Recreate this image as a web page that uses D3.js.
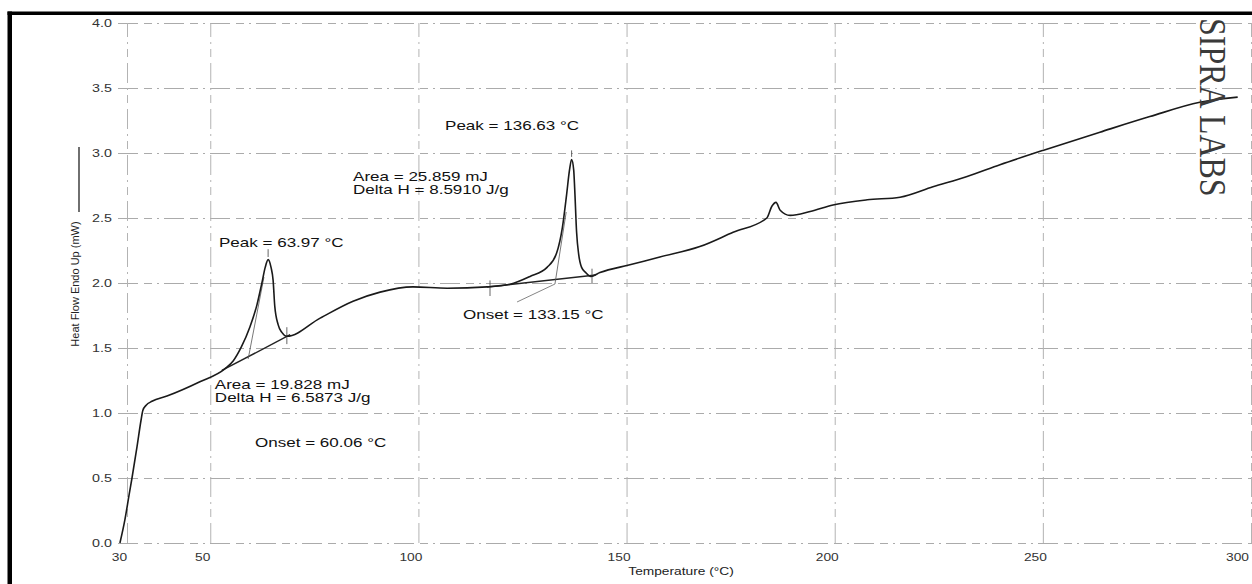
<!DOCTYPE html>
<html>
<head>
<meta charset="utf-8">
<script src="https://cdn.jsdelivr.net/npm/d3@7"></script>
<style>
  body { margin: 0; background: #fff; }
  svg { display: block; font-family: "Liberation Sans", Arial, sans-serif; }
</style>
</head>
<body>
<div id="chart"></div>
<script>
// DSC trace
const temperature = [28.3, 29.5, 30.5, 31.2, 32.4, 33.4, 33.8, 34.6, 36.0, 39.6, 47.5, 53.5, 55.5, 57.5, 59.5,
  61.2, 62.4, 63.2, 63.9, 64.6, 65.1, 65.5, 66.3, 67.2, 68.4, 76.4, 84.3, 90.8, 98.7, 106.9, 116.5, 122.0,
  126.8, 130.9, 133.2, 134.6, 135.6, 136.3, 136.8, 137.3, 137.55, 138.0, 138.5, 139.2, 140.2, 141.4, 143.6,
  150.8, 158.0, 167.6, 175.6, 183.7, 184.9, 185.9, 186.9, 189.3, 194.1, 199.6, 207.8, 215.7, 223.6, 231.8,
  239.7, 250.0, 263.7, 275.7, 287.7, 296.8];
const heatFlow = [0.00, 0.18, 0.37, 0.50, 0.74, 0.95, 1.02, 1.06, 1.09, 1.13, 1.24, 1.34, 1.40, 1.51, 1.66,
  1.83, 2.00, 2.12, 2.18, 2.12, 2.02, 1.82, 1.68, 1.62, 1.59, 1.73, 1.86, 1.93, 1.97, 1.96, 1.97, 1.99,
  2.05, 2.12, 2.23, 2.43, 2.68, 2.87, 2.95, 2.87, 2.72, 2.39, 2.22, 2.12, 2.08, 2.05, 2.08,
  2.14, 2.20, 2.28, 2.39, 2.50, 2.59, 2.62, 2.56, 2.52, 2.55, 2.60, 2.64, 2.66, 2.74, 2.82,
  2.91, 3.02, 3.16, 3.28, 3.39, 3.43];

// integration baselines and onset tangents [t0, t1], [hf0, hf1]
const base1T = [52.8, 69.2], base1Hf = [1.327, 1.602];
const base2T = [116.5, 142.6], base2Hf = [1.969, 2.062];
const tangent1T = [59.1, 62.9], tangent1Hf = [1.415, 2.046];
const tangent2T = [132.8, 135.5], tangent2Hf = [1.992, 2.546];
const leader2T = [123.7, 132.8], leader2Hf = [1.854, 1.992];
// small vertical markers: [t, hfLow, hfHigh]
const markT = [68.4, 63.9, 117.2, 141.7, 136.8];
const markLo = [1.53, 2.20, 1.90, 2.00, 2.97];
const markHi = [1.66, 2.26, 2.02, 2.11, 3.02];

const xTicks = [30, 50, 100, 150, 200, 250, 300];
const yTicks = [0, 0.5, 1.0, 1.5, 2.0, 2.5, 3.0, 3.5, 4.0];

const noteText = ['Peak = 63.97 °C', 'Area = 19.828 mJ', 'Delta H = 6.5873 J/g', 'Onset = 60.06 °C',
  'Peak = 136.63 °C', 'Area = 25.859 mJ', 'Delta H = 8.5910 J/g', 'Onset = 133.15 °C'];
const noteT = [52.1, 51.1, 51.1, 60.75, 106.4, 84.3, 84.3, 110.7];
const noteHf = [2.277, 1.185, 1.085, 0.738, 3.177, 2.785, 2.685, 1.723];

const W = 1252, H = 584;
const svg = d3.select('#chart').append('svg').attr('width', W).attr('height', H);

const x = d3.scaleLinear().domain([30, 300]).range([127, 1251]);
const y = d3.scaleLinear().domain([0, 4]).range([543, 23]);
const dash = '20,6,8,5,2,5';

// y grid + labels
const yAxis = svg.append('g')
  .attr('class', 'axis axis-y')
  .attr('transform', 'translate(118,0)')
  .call(d3.axisLeft(y).tickValues(yTicks).tickSize(-(W - 118)).tickPadding(6).tickFormat(d3.format('.1f')));
yAxis.select('.domain').remove();
yAxis.selectAll('line').attr('stroke', '#ababab').attr('stroke-dasharray', dash);
yAxis.selectAll('text')
  .attr('x', null)
  .attr('transform', 'translate(-6,0) scale(1.3,1)')
  .attr('font-size', 11).attr('fill', '#333')
  .attr('font-family', '"Liberation Sans", Arial, sans-serif');

// x grid + labels
const xAxis = svg.append('g')
  .attr('class', 'axis axis-x')
  .attr('transform', `translate(0,${y(0)})`)
  .call(d3.axisBottom(x).tickValues(xTicks).tickSize(-(y(0) - y(4))).tickPadding(11));
xAxis.select('.domain').remove();
xAxis.selectAll('line').attr('stroke', '#b3b3b3').attr('stroke-dasharray', dash);
xAxis.selectAll('text')
  .attr('y', null)
  .attr('transform', d => `translate(${d === 300 ? -14 : -8},10.5) scale(1.25,1)`)
  .attr('font-size', 11).attr('fill', '#333')
  .attr('font-family', '"Liberation Sans", Arial, sans-serif');

svg.append('text')
  .attr('transform', 'translate(681,575) scale(1.25,1)')
  .attr('text-anchor', 'middle')
  .attr('font-size', 11).attr('fill', '#222')
  .text('Temperature (°C)');

svg.append('text')
  .attr('transform', 'translate(79,284) rotate(-90)')
  .attr('text-anchor', 'middle')
  .attr('font-size', 11).attr('fill', '#222')
  .text('Heat Flow Endo Up (mW)');
svg.append('line')
  .attr('x1', 79).attr('x2', 79).attr('y1', 147).attr('y2', 212)
  .attr('stroke', '#222').attr('stroke-width', 1.3);

// helper lines
const seg = (ts, hs, w, c) => svg.append('line')
  .attr('x1', x(ts[0])).attr('y1', y(hs[0]))
  .attr('x2', x(ts[1])).attr('y2', y(hs[1]))
  .attr('stroke', c).attr('stroke-width', w);
seg(base1T, base1Hf, 1.4, '#222');
seg(base2T, base2Hf, 1.4, '#222');
seg(tangent1T, tangent1Hf, 0.8, '#555');
seg(tangent2T, tangent2Hf, 0.8, '#555');
seg(leader2T, leader2Hf, 0.8, '#666');

svg.append('g').selectAll('line')
  .data(markT)
  .enter()
  .append('line')
  .attr('x1', d => x(d)).attr('x2', d => x(d))
  .attr('y1', (d, i) => y(markLo[i])).attr('y2', (d, i) => y(markHi[i]))
  .attr('stroke', '#555').attr('stroke-width', 0.9);

// main curve
const line = d3.line()
  .x(d => x(d[0]))
  .y(d => y(d[1]))
  .curve(d3.curveMonotoneX);
svg.append('path')
  .datum(temperature.map((t, i) => [t, heatFlow[i]]))
  .attr('d', line)
  .attr('fill', 'none')
  .attr('stroke', '#1a1a1a')
  .attr('stroke-width', 1.6);

// annotations
svg.append('g').selectAll('text')
  .data(noteText)
  .enter()
  .append('text')
  .attr('transform', (d, i) => `translate(${x(noteT[i])},${y(noteHf[i])}) scale(1.42,1)`)
  .attr('font-size', 12).attr('fill', '#111')
  .text(d => d);

svg.append('text')
  .attr('transform', 'translate(1200,18) scale(1.2,1) rotate(90)')
  .attr('font-family', '"Liberation Serif", "Times New Roman", serif')
  .attr('font-size', 32).attr('fill', '#3a3a3a')
  .text('SIPRA LABS');

// scan frame
svg.append('rect').attr('x', 7.5).attr('y', 11.5).attr('width', W - 7.5).attr('height', 3.5).attr('fill', '#000');
svg.append('rect').attr('x', 7.5).attr('y', 11.5).attr('width', 4.5).attr('height', H - 11.5).attr('fill', '#000');
</script>
</body>
</html>
